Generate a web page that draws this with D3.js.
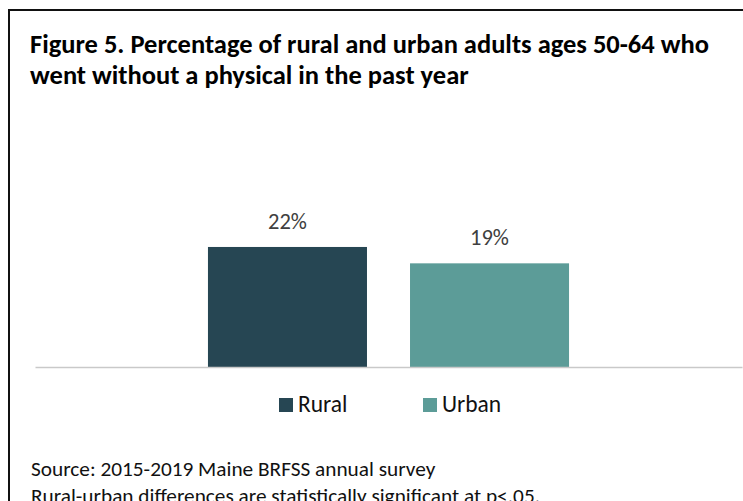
<!DOCTYPE html>
<html>
<head>
<meta charset="utf-8">
<script src="https://cdn.jsdelivr.net/npm/d3@7"></script>
<style>
  body { margin: 0; background: #fff; }
  svg text { font-family: Calibri, Carlito, Lato, sans-serif; }
</style>
</head>
<body>
<svg id="chart" width="743" height="501"></svg>
<script>
const categories = ["Rural", "Urban"];
const values = [22, 19];
const valueLabels = ["22%", "19%"];
const colors = ["#264653", "#5c9c98"];
const titleLines = [
  "Figure 5. Percentage of rural and urban adults ages 50-64 who",
  "went without a physical in the past year"
];
const notes = [
  "Source: 2015-2019 Maine BRFSS annual survey",
  "Rural-urban differences are statistically significant at p<.05."
];

const svg = d3.select("#chart");
const width = +svg.attr("width");
const baseY = 367;

const x = d3.scaleBand().domain(categories).range([35, 742])
  .paddingInner(0.213).paddingOuter(0.856);
const y = d3.scaleLinear().domain([0, 25]).range([baseY, baseY - 136.4]);

// frame (only top and left edges show in the crop)
svg.append("path")
  .attr("d", `M9,501V10H${width}`)
  .attr("fill", "none")
  .attr("stroke", "#111")
  .attr("stroke-width", 2);

// title
svg.append("text")
  .attr("font-weight", "bold")
  .attr("font-size", 26.5)
  .attr("fill", "#000")
  .selectAll("tspan")
  .data(titleLines)
  .join("tspan")
  .attr("x", 30)
  .attr("y", (d, i) => 53 + i * 31)
  .text(d => d);

// bars
svg.selectAll("rect.bar")
  .data(categories)
  .join("rect")
  .attr("class", "bar")
  .attr("x", d => x(d))
  .attr("y", (d, i) => y(values[i]))
  .attr("width", x.bandwidth())
  .attr("height", (d, i) => y(0) - y(values[i]))
  .attr("fill", (d, i) => colors[i]);

svg.selectAll("text.val")
  .data(categories)
  .join("text")
  .attr("class", "val")
  .attr("x", d => x(d) + x.bandwidth() / 2)
  .attr("y", (d, i) => y(values[i]) - 18)
  .attr("text-anchor", "middle")
  .attr("font-size", 22.5)
  .attr("fill", "#404040")
  .text((d, i) => valueLabels[i]);

// baseline
svg.append("g")
  .attr("transform", `translate(0,${baseY})`)
  .call(d3.axisBottom(x).tickSize(0).tickFormat(""))
  .call(g => g.select(".domain").attr("stroke", "#c9c9c9").attr("stroke-width", 1.5));

// legend
const legend = svg.append("g")
  .selectAll("g")
  .data(categories)
  .join("g")
  .attr("transform", (d, i) => `translate(${279 + i * 144},398)`);
legend.append("rect")
  .attr("width", 14)
  .attr("height", 14)
  .attr("fill", (d, i) => colors[i]);
legend.append("text")
  .attr("x", 19)
  .attr("y", 14)
  .attr("font-size", 23.5)
  .attr("fill", "#111")
  .text(d => d);

// notes
svg.append("text")
  .attr("font-size", 21.3)
  .attr("fill", "#111")
  .selectAll("tspan")
  .data(notes)
  .join("tspan")
  .attr("x", 31)
  .attr("y", (d, i) => 476 + i * 27)
  .text(d => d);
</script>
</body>
</html>
